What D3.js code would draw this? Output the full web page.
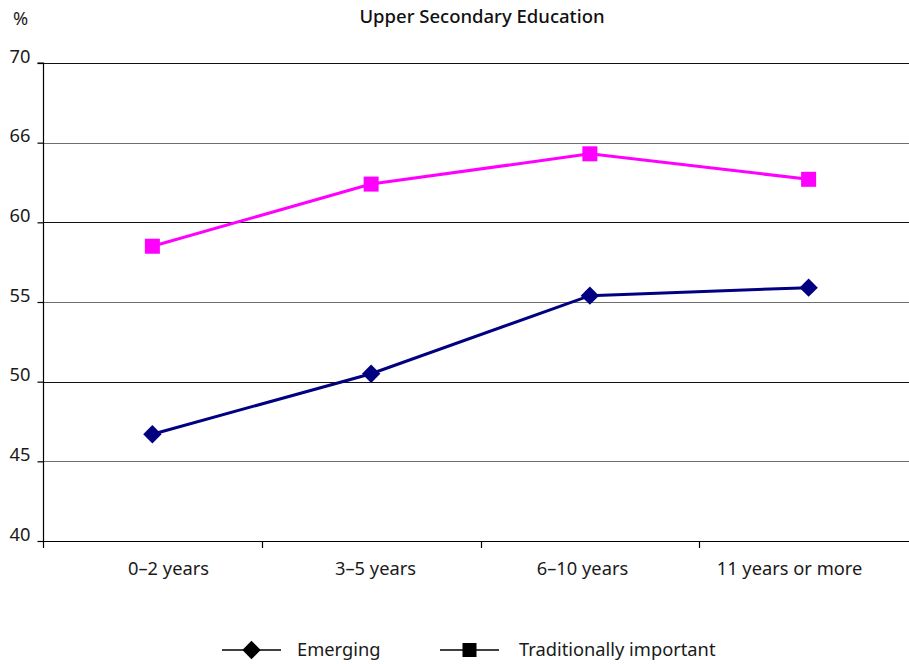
<!DOCTYPE html>
<html>
<head>
<meta charset="utf-8">
<script src="https://cdn.jsdelivr.net/npm/d3@7"></script>
<style>
  html, body { margin: 0; padding: 0; background: #fff; }
  svg { display: block; font-family: "Noto Sans", "Open Sans", sans-serif; }
</style>
</head>
<body>
<svg id="chart" width="909" height="664"></svg>
<script>
// Share (%) by years since arrival, upper secondary education
const categories = ["0\u20132 years", "3\u20135 years", "6\u201310 years", "11 years or more"];
const emerging = [46.7, 50.5, 55.4, 55.9];
const traditional = [58.5, 62.4, 64.3, 62.7];
const yTicks = [40, 45, 50, 55, 60, 65, 70];
const yTickLabels = ["40", "45", "50", "55", "60", "66", "70"];
const seriesNames = ["Emerging", "Traditionally important"];

(function () {
  const svg = d3.select("#chart");
  const plotLeft = 43, plotRight = 918, plotTop = 63, plotBottom = 541;
  const font = "'Noto Sans', 'Open Sans', sans-serif";
  const fs = 18.3;
  const textColor = "#1a1a1a";

  const x = d3.scaleBand().domain(categories).range([plotLeft, plotRight]).padding(0);
  // category labels sit on a slightly narrower, evenly spaced band
  const xLabel = d3.scaleBand().domain(categories).range([65, 893]).padding(0);
  const y = d3.scaleLinear().domain([40, 70]).range([plotBottom, plotTop]);

  // horizontal gridlines
  svg.append("g")
    .selectAll("line")
    .data(yTicks.filter(t => t > 40))
    .join("line")
    .attr("x1", plotLeft).attr("x2", plotRight)
    .attr("y1", d => Math.round(y(d)) + 0.5).attr("y2", d => Math.round(y(d)) + 0.5)
    .attr("stroke", (d, i) => i % 2 === 0 ? "#6e6e6e" : "#111")
    .attr("stroke-width", 1.2);

  // y axis
  const yAxis = d3.axisLeft(y).tickValues(yTicks)
    .tickFormat((d, i) => yTickLabels[i]).tickSize(6).tickPadding(7);
  const gy = svg.append("g").attr("transform", `translate(${plotLeft + 0.5},0)`).call(yAxis);
  gy.select(".domain").attr("stroke", "#000").attr("stroke-width", 1.2)
    .attr("d", `M-6,${plotTop}H0V${plotBottom}`);
  gy.selectAll(".tick line").attr("stroke", "#000").attr("stroke-width", 1.2);
  gy.selectAll(".tick text").attr("font-size", fs).attr("fill", textColor)
    .attr("font-family", font).attr("dy", "-0.05em");

  // x axis: category labels
  const xAxis = d3.axisBottom(xLabel).tickSize(0).tickPadding(21);
  const gx = svg.append("g").attr("transform", `translate(0,${plotBottom + 0.5})`).call(xAxis);
  gx.select(".domain").remove();
  gx.selectAll(".tick text").attr("font-size", fs).attr("fill", textColor).attr("font-family", font);
  // axis baseline
  svg.append("line").attr("x1", plotLeft).attr("x2", plotRight)
    .attr("y1", plotBottom + 0.5).attr("y2", plotBottom + 0.5)
    .attr("stroke", "#000").attr("stroke-width", 1.2);
  // category separator ticks
  svg.append("g").selectAll("line")
    .data(categories)
    .join("line")
    .attr("x1", d => Math.round(x(d)) + 0.5).attr("x2", d => Math.round(x(d)) + 0.5)
    .attr("y1", plotBottom).attr("y2", plotBottom + 7)
    .attr("stroke", "#000").attr("stroke-width", 1.2);

  // title and unit
  svg.append("text").attr("x", 482).attr("y", 23).attr("text-anchor", "middle")
    .attr("font-size", 18.5).attr("font-weight", 500).attr("fill", "#111")
    .text("Upper Secondary Education");
  svg.append("text").attr("x", 13).attr("y", 25).attr("font-size", fs).attr("fill", textColor).text("%");

  const cx = d => x(d) + x.bandwidth() / 2;
  const line = d3.line().x(d => cx(d.c)).y(d => y(d.v));

  function drawSeries(values, color, kind) {
    const pts = categories.map((c, i) => ({ c, v: values[i] }));
    svg.append("path").datum(pts).attr("d", line)
      .attr("fill", "none").attr("stroke", color).attr("stroke-width", 3);
    const g = svg.append("g");
    if (kind === "square") {
      g.selectAll("rect").data(pts).join("rect")
        .attr("x", d => cx(d.c) - 7.5).attr("y", d => y(d.v) - 7.5)
        .attr("width", 15).attr("height", 15).attr("fill", color);
    } else {
      g.selectAll("rect").data(pts).join("rect")
        .attr("x", -6.5).attr("y", -6.5).attr("width", 13).attr("height", 13)
        .attr("transform", d => `translate(${cx(d.c)},${y(d.v)}) rotate(45)`)
        .attr("fill", color);
    }
  }

  drawSeries(traditional, "#ff00ff", "square");
  drawSeries(emerging, "#000080", "diamond");

  // legend
  const legend = svg.append("g");
  const items = [
    { name: seriesNames[0], x0: 222, kind: "diamond", tx: 297 },
    { name: seriesNames[1], x0: 440, kind: "square", tx: 519 }
  ];
  const ly = 650;
  items.forEach(it => {
    legend.append("line").attr("x1", it.x0).attr("x2", it.x0 + 59)
      .attr("y1", ly).attr("y2", ly).attr("stroke", "#000").attr("stroke-width", 1.5);
    const mx = it.x0 + 29.5;
    if (it.kind === "diamond") {
      legend.append("rect").attr("x", -6.5).attr("y", -6.5).attr("width", 13).attr("height", 13)
        .attr("transform", `translate(${mx},${ly}) rotate(45)`).attr("fill", "#000");
    } else {
      legend.append("rect").attr("x", mx - 7).attr("y", ly - 7).attr("width", 14).attr("height", 14).attr("fill", "#000");
    }
    legend.append("text").attr("x", it.tx).attr("y", ly + 6).attr("font-size", fs).attr("fill", textColor).text(it.name);
  });
})();
</script>
</body>
</html>
